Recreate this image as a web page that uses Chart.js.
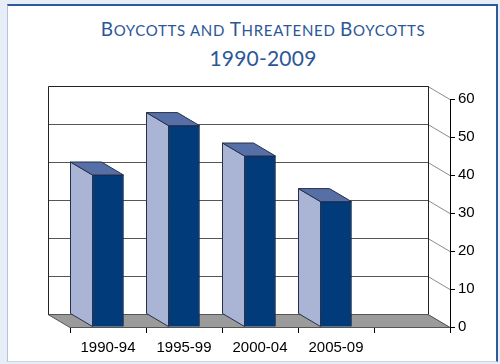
<!DOCTYPE html>
<html>
<head>
<meta charset="utf-8">
<script src="https://cdn.jsdelivr.net/npm/chart.js@4"></script>
<style>
  body { margin: 0; background: #e8eef7; }
  #frame {
    position: absolute; left: 7px; top: 4px; width: 488px; height: 355px;
    background: #fff;
    border-top: 2px solid #2d5b9a; border-right: 2px solid #2d5b9a;
    border-left: 1px solid #b4c3da; border-bottom: 1px solid #c9d4e6;
  }
  #title {
    position: absolute; left: 63px; top: 15px; width: 400px;
    text-align: center; color: #2b5797; font-family: Lato, sans-serif;
    font-weight: 400; line-height: 27px;
  }
  #title .l1 { font-size: 19px; letter-spacing: 0.7px; }
  #title .sc { font-size: 15px; text-transform: uppercase; }
  #title .l2 { font-size: 21px; letter-spacing: 0.2px; }
  canvas { position: absolute; left: 0; top: 0; }
</style>
</head>
<body>
<div id="frame"></div>
<div id="title">
  <div class="l1">B<span class="sc">oycotts and </span>T<span class="sc">hreatened </span>B<span class="sc">oycotts</span></div>
  <div class="l2">1990-2009</div>
</div>
<canvas id="chart" width="500" height="364"></canvas>
<script>
const categories = ['1990-94', '1995-99', '2000-04', '2005-09', ''];
const boycotts = [40, 53, 45, 33, null];
const yMin = 0;
const yMax = 60;
const yStep = 10;

// depth of the 3d effect (back is up and to the left)
const DX = -22;
const DY = -13;

const threeD = {
    id: 'threeD',
    beforeDatasetsDraw(chart) {
        const ctx = chart.ctx;
        const { left, right } = chart.chartArea;
        const ys = chart.scales.y;
        const top = ys.getPixelForValue(yMax);
        const base = ys.getPixelForValue(yMin);
        ctx.save();
        // back wall
        ctx.fillStyle = '#fff';
        ctx.fillRect(left + DX, top + DY, right - left, base - top);
        ctx.lineWidth = 1;
        ys.ticks.forEach(t => {
            const py = Math.round(ys.getPixelForValue(t.value)) + 0.5;
            if (t.value > yMin && t.value < yMax) {
                ctx.strokeStyle = '#555';
                ctx.beginPath();
                ctx.moveTo(left + DX, py + DY);
                ctx.lineTo(right + DX, py + DY);
                ctx.stroke();
            }
            ctx.strokeStyle = '#8a8a8a';
            ctx.beginPath();
            ctx.moveTo(right + DX, py + DY);
            ctx.lineTo(right, py);
            ctx.stroke();
        });
        // floor
        const b = Math.round(base) + 0.5;
        ctx.fillStyle = '#9b9b9b';
        ctx.strokeStyle = '#555';
        ctx.beginPath();
        ctx.moveTo(left + DX, b + DY);
        ctx.lineTo(right + DX, b + DY);
        ctx.lineTo(right, b);
        ctx.lineTo(left, b);
        ctx.closePath();
        ctx.fill();
        ctx.stroke();
        // wall border
        const t0 = Math.round(top) + 0.5;
        ctx.strokeStyle = '#222';
        ctx.beginPath();
        ctx.moveTo(left + DX + 0.5, b + DY);
        ctx.lineTo(left + DX + 0.5, t0 + DY);
        ctx.lineTo(right + DX + 0.5, t0 + DY);
        ctx.lineTo(right + DX + 0.5, b + DY);
        ctx.stroke();
        ctx.restore();
    },
    afterDatasetsDraw(chart) {
        const ctx = chart.ctx;
        const meta = chart.getDatasetMeta(0);
        ctx.save();
        ctx.lineWidth = 1;
        ctx.strokeStyle = '#26304a';
        meta.data.forEach((el, i) => {
            if (boycotts[i] == null) return;
            const { x, y, base, width } = el.getProps(['x', 'y', 'base', 'width'], true);
            const l = x - width / 2, r = x + width / 2;
            // side face
            ctx.fillStyle = '#aab5d5';
            ctx.beginPath();
            ctx.moveTo(l, base);
            ctx.lineTo(l, y);
            ctx.lineTo(l + DX, y + DY);
            ctx.lineTo(l + DX, base + DY);
            ctx.closePath();
            ctx.fill();
            ctx.stroke();
            // top face
            ctx.fillStyle = '#5670a7';
            ctx.beginPath();
            ctx.moveTo(l, y);
            ctx.lineTo(r, y);
            ctx.lineTo(r + DX, y + DY);
            ctx.lineTo(l + DX, y + DY);
            ctx.closePath();
            ctx.fill();
            ctx.stroke();
        });
        ctx.restore();
    }
};

const tickFont = { family: 'Liberation Sans', size: 15 };

new Chart(document.getElementById('chart'), {
    type: 'bar',
    data: {
        labels: categories,
        datasets: [{
            label: 'Boycotts',
            data: boycotts,
            backgroundColor: '#023b7a',
            borderColor: '#1d2640',
            borderWidth: 1,
            barThickness: 31
        }]
    },
    options: {
        responsive: false,
        animation: false,
        layout: { padding: { left: 70, top: 99, right: 0, bottom: 0 } },
        plugins: { legend: { display: false }, tooltip: { enabled: false } },
        scales: {
            x: {
                grid: { drawOnChartArea: false, tickLength: 6, color: '#000', offset: true },
                border: { display: false },
                ticks: { color: '#000', font: tickFont, padding: 6, maxRotation: 0 },
                afterFit(s) { s.height = 37; }
            },
            y: {
                position: 'right',
                min: yMin,
                max: yMax,
                grid: { drawOnChartArea: false, tickLength: 5, color: '#000' },
                border: { display: true, color: '#000' },
                ticks: { stepSize: yStep, color: '#000', font: tickFont, padding: 3 },
                afterFit(s) { s.width = 50; }
            }
        }
    },
    plugins: [threeD]
});
</script>
</body>
</html>
